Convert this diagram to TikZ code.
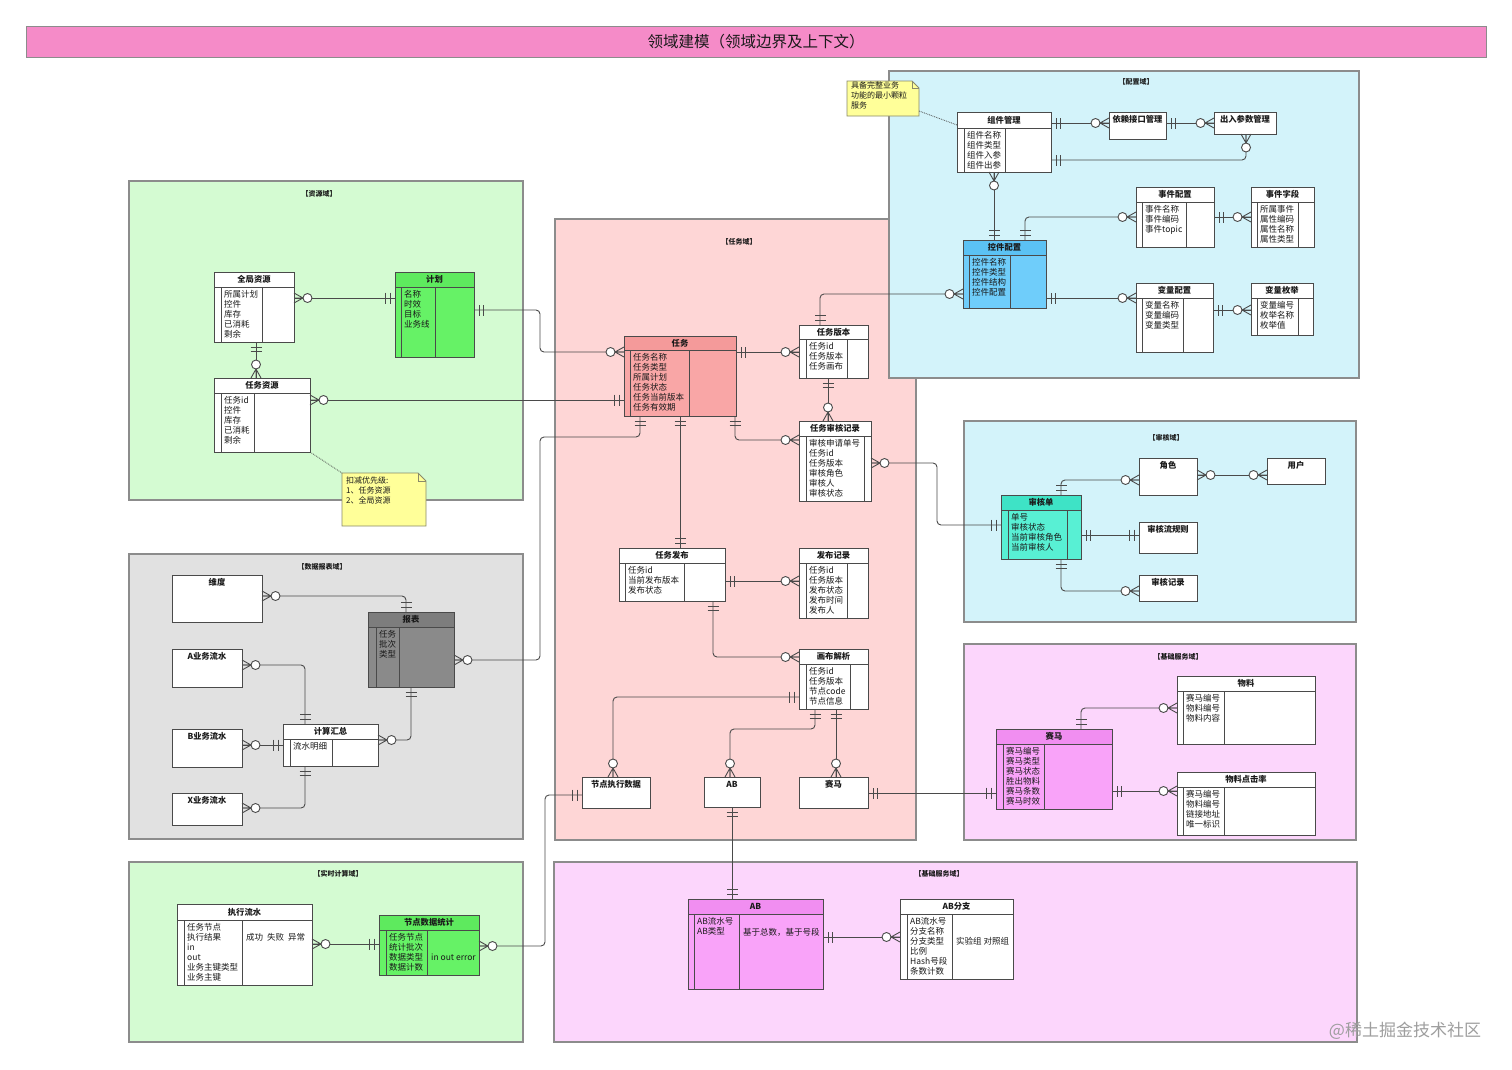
\documentclass[tikz,border=0pt]{standalone}
\usepackage{fontspec}
\setmainfont{Noto Sans CJK SC}
\usetikzlibrary{calc}
\definecolor{titlec}{HTML}{F58BC8}
\definecolor{gdom}{HTML}{D4FBD2}
\definecolor{pdom}{HTML}{FED6D6}
\definecolor{bdom}{HTML}{D3F3FA}
\definecolor{gydom}{HTML}{E1E1E1}
\definecolor{mdom}{HTML}{FCD6FC}
\definecolor{domc}{HTML}{8C8C8C}
\definecolor{lnc}{HTML}{4A4A4A}
\definecolor{grn}{HTML}{66F266}
\definecolor{grnh}{HTML}{5EEA5E}
\definecolor{rwb}{HTML}{F9A6A6}
\definecolor{rwh}{HTML}{F49A9A}
\definecolor{blu}{HTML}{6FCDFA}
\definecolor{bluh}{HTML}{5BC2F4}
\definecolor{tea}{HTML}{58F0D4}
\definecolor{teah}{HTML}{3EE3C6}
\definecolor{gry}{HTML}{8A8A8A}
\definecolor{gryh}{HTML}{7D7D7D}
\definecolor{mag}{HTML}{F9A3F9}
\definecolor{magh}{HTML}{F18EF1}
\definecolor{notec}{HTML}{FFFF99}
\definecolor{notebd}{HTML}{8A8A6A}
\definecolor{txt}{HTML}{1A1A1A}
\tikzset{
  dom/.style={draw=domc, line width=1.2pt, inner sep=0, outer sep=0, anchor=north west},
  domlab/.style={font=\bfseries\fontsize{7}{8}\selectfont, inner sep=0, text=txt},
  ebox/.style={draw=lnc, line width=0.9pt, inner sep=0, outer sep=0, anchor=north west},
  etitle/.style={font=\bfseries\fontsize{8.3}{10}\selectfont, inner sep=0, text=txt},
  eattr/.style={font=\fontsize{8.5}{10}\selectfont, inner sep=0, align=left, anchor=north west, text=txt},
  notetxt/.style={font=\fontsize{8}{10}\selectfont, inner sep=0, align=left, anchor=north west, text=txt},
  cn/.style={draw=lnc, line width=0.9pt, rounded corners=4pt},
  pics/erone/.style={code={\draw[lnc, line width=0.9pt] (5pt,-5.5pt) -- (5pt,5.5pt) (9.5pt,-5.5pt) -- (9.5pt,5.5pt);}},
  pics/ermany/.style={code={\draw[lnc, line width=0.9pt] (0pt,5pt) -- (9pt,0pt) -- (0pt,-5pt) (0pt,0pt) -- (9pt,0pt);
      \draw[lnc, line width=0.9pt, fill=white] (13.5pt,0pt) circle[radius=4.5pt];}}
}
\newcommand\mko[2]{\pic[rotate=#2] at #1 {erone};}
\newcommand\mkm[2]{\pic[rotate=#2] at #1 {ermany};}
\newcommand\ebx[6]{\node[ebox, fill=#6, minimum width={#4-#2}, minimum height={#5-#3}] (#1) at (#2,#3) {};}
\newcommand\ehd[7]{%
  \draw[lnc, line width=0.9pt, fill=#7] (#1.north west) rectangle ($(#1.north east)+(0,#2)$);
  \draw[lnc, line width=0.9pt] ($(#1.north west)+(#3,#2)$) -- ($(#1.south west)+(#3,0)$)
     ($(#1.north west)+(#4,#2)$) -- ($(#1.south west)+(#4,0)$);
  \node[etitle] (#1-t) at ($(#1.north)+(0,#2/2)$) {#5};
  \node[eattr] (#1-a) at ($(#1.north west)+(#3+3,#2+3.5)$) {#6};}
\newcommand\tbx[6]{\ebx{#1}{#2}{#3}{#4}{#5}{white}\node[etitle] (#1-t) at ($(#1.north)+(0,7.5)$) {#6};}
\begin{document}
\begin{tikzpicture}[x=1pt,y=-1pt]
\fill[white] (0,0) rectangle (1512,1069);
\useasboundingbox (0,0) rectangle (1512,1069);
% title
\node[draw=domc, fill=titlec, line width=1pt, minimum width=1460, minimum height=31, anchor=north west, inner sep=0, outer sep=0] (ttl) at (26,26) {};
\node[font=\fontsize{15.5}{16}\selectfont, inner sep=0, text=txt] (ttl-t) at (ttl.center) {领域建模（领域边界及上下文）};
% domains
\node[dom, fill=gdom, minimum width=394, minimum height=319] (d1) at (129,181) {};
\node[domlab] (d1-l) at (319,194) {【资源域】};
\node[dom, fill=pdom, minimum width=361, minimum height=621] (d2) at (555,219) {};
\node[domlab] (d2-l) at (739,242) {【任务域】};
\node[dom, fill=bdom, minimum width=470, minimum height=307] (d3) at (889,71) {};
\node[domlab] (d3-l) at (1136,82) {【配置域】};
\node[dom, fill=bdom, minimum width=392, minimum height=201] (d4) at (964,421) {};
\node[domlab] (d4-l) at (1166,438) {【审核域】};
\node[dom, fill=gydom, minimum width=394, minimum height=285] (d5) at (129,554) {};
\node[domlab] (d5-l) at (322,567) {【数据报表域】};
\node[dom, fill=mdom, minimum width=392, minimum height=196] (d6) at (964,644) {};
\node[domlab] (d6-l) at (1178,657) {【基础服务域】};
\node[dom, fill=gdom, minimum width=394, minimum height=180] (d7) at (129,862) {};
\node[domlab] (d7-l) at (338,874) {【实时计算域】};
\node[dom, fill=mdom, minimum width=803, minimum height=180] (d8) at (554,862) {};
\node[domlab] (d8-l) at (939,874) {【基础服务域】};
% resource domain
\ebx{qjzy}{214}{272}{294}{342}{white}
\ehd{qjzy}{15}{7}{48}{全局资源}{所属计划\\控件\\库存\\已消耗\\剩余}{white}
\ebx{jh}{395}{272}{474}{357}{grn}
\ehd{jh}{15}{6}{40}{计划}{名称\\时效\\目标\\业务线}{grnh}
\ebx{rwzy}{214}{378}{310}{452}{white}
\ehd{rwzy}{15}{7}{40}{任务资源}{任务id\\控件\\库存\\已消耗\\剩余}{white}
% task domain
\ebx{rw}{624}{336}{736}{416}{rwb}
\ehd{rw}{14}{6}{65}{任务}{任务名称\\任务类型\\所属计划\\任务状态\\任务当前版本\\任务有效期}{rwh}
\ebx{rwbb}{799}{325}{868}{378}{white}
\ehd{rwbb}{14}{7}{48}{任务版本}{任务id\\任务版本\\任务画布}{white}
\ebx{rwsh}{799}{421}{871}{501}{white}
\ehd{rwsh}{15}{7}{65}{任务审核记录}{审核申请单号\\任务id\\任务版本\\审核角色\\审核人\\审核状态}{white}
\ebx{rwfb}{619}{548}{725}{601}{white}
\ehd{rwfb}{15}{6}{65}{任务发布}{任务id\\当前发布版本\\发布状态}{white}
\ebx{fbjl}{799}{548}{868}{618}{white}
\ehd{fbjl}{15}{7}{48}{发布记录}{任务id\\任务版本\\发布状态\\发布时间\\发布人}{white}
\ebx{hbjx}{799}{649}{868}{709}{white}
\ehd{hbjx}{15}{7}{51}{画布解析}{任务id\\任务版本\\节点code\\节点信息}{white}
\tbx{jdzx}{582}{777}{650}{808}{节点执行数据}
\tbx{abs}{704}{777}{760}{807}{AB}
\tbx{smS}{799}{777}{868}{808}{赛马}
% config domain
\ebx{zjgl}{957}{112}{1051}{172}{white}
\ehd{zjgl}{16}{7}{48}{组件管理}{组件名称\\组件类型\\组件入参\\组件出参}{white}
\tbx{yljk}{1109}{112}{1166}{139}{依赖接口管理}
\tbx{crcs}{1214}{112}{1276}{134}{出入参数管理}
\ebx{kjpz}{963}{240}{1046}{308}{blu}
\ehd{kjpz}{15}{6}{47}{控件配置}{控件名称\\控件类型\\控件结构\\控件配置}{bluh}
\ebx{sjpz}{1136}{187}{1214}{247}{white}
\ehd{sjpz}{15}{6}{50}{事件配置}{事件名称\\事件编码\\事件topic}{white}
\ebx{sjzd}{1251}{187}{1314}{247}{white}
\ehd{sjzd}{15}{6}{47}{事件字段}{所属事件\\属性编码\\属性名称\\属性类型}{white}
\ebx{blpz}{1136}{283}{1213}{352}{white}
\ehd{blpz}{15}{6}{47}{变量配置}{变量名称\\变量编码\\变量类型}{white}
\ebx{blmj}{1251}{283}{1313}{335}{white}
\ehd{blmj}{15}{6}{47}{变量枚举}{变量编号\\枚举名称\\枚举值}{white}
% audit domain
\ebx{shd}{1001}{495}{1081}{559}{tea}
\ehd{shd}{15}{7}{66}{审核单}{单号\\审核状态\\当前审核角色\\当前审核人}{teah}
\tbx{js}{1139}{458}{1197}{495}{角色}
\tbx{yh}{1267}{458}{1325}{484}{用户}
\tbx{shlgz}{1139}{522}{1197}{553}{审核流规则}
\tbx{shjl}{1139}{575}{1197}{601}{审核记录}
% data report domain
\tbx{wd}{172}{575}{262}{622}{维度}
\ebx{bb}{368}{612}{454}{687}{gry}
\ehd{bb}{15}{8}{31}{报表}{任务\\批次\\类型}{gryh}
\tbx{ayw}{172}{649}{242}{687}{A业务流水}
\tbx{byw}{172}{729}{242}{767}{B业务流水}
\tbx{xyw}{172}{793}{242}{825}{X业务流水}
\ebx{jshz}{283}{724}{378}{766}{white}
\ehd{jshz}{15}{7}{49}{计算汇总}{流水明细}{white}
% basic service (right)
\ebx{sm}{996}{729}{1112}{809}{mag}
\ehd{sm}{15}{7}{48}{赛马}{赛马编号\\赛马类型\\赛马状态\\胜出物料\\赛马条数\\赛马时效}{magh}
\ebx{wl}{1177}{676}{1315}{744}{white}
\ehd{wl}{15}{6}{47}{物料}{赛马编号\\物料编号\\物料内容}{white}
\ebx{wldj}{1177}{772}{1315}{835}{white}
\ehd{wldj}{15}{6}{47}{物料点击率}{赛马编号\\物料编号\\链接地址\\唯一标识}{white}
% realtime domain
\ebx{zxls}{177}{904}{312}{985}{white}
\ehd{zxls}{16}{7}{65}{执行流水}{任务节点\\执行结果\\in\\out\\业务主键类型\\业务主键}{white}
\node[eattr, anchor=west] (zxls-c) at (246,937) {成功\hspace{4pt}失败\hspace{4pt}异常};
\ebx{jdtj}{379}{915}{479}{975}{grn}
\ehd{jdtj}{15}{7}{48}{节点数据统计}{任务节点\\统计批次\\数据类型\\数据计数}{grnh}
\node[eattr, anchor=west] (jdtj-c) at (431,957) {in out error};
% basic service (bottom)
\ebx{ab}{688}{899}{823}{989}{mag}
\ehd{ab}{15}{6}{51}{AB}{AB流水号\\AB类型}{magh}
\node[eattr, anchor=west] (ab-c) at (743,932) {基于总数，基于号段};
\ebx{abfz}{900}{899}{1013}{979}{white}
\ehd{abfz}{15}{7}{52}{AB分支}{AB流水号\\分支名称\\分支类型\\比例\\Hash号段\\条数计数}{white}
\node[eattr, anchor=west] (abfz-c) at (956,941) {实验组 对照组};
% notes
\node[inner sep=0, outer sep=0, minimum width=84, minimum height=53, anchor=north west] (n1) at (342,473) {};
\draw[fill=notec, draw=notebd, line width=0.8pt] (n1.north west) -- ($(n1.north east)+(-8,0)$) -- ($(n1.north east)+(0,8)$) -- (n1.south east) -- (n1.south west) -- cycle;
\draw[notebd, line width=0.8pt] ($(n1.north east)+(-8,0)$) -- ($(n1.north east)+(-8,8)$) -- ($(n1.north east)+(0,8)$);
\node[notetxt] (n1-t) at ($(n1.north west)+(4,4)$) {扣减优先级:\\1、任务资源\\2、全局资源};
\node[inner sep=0, outer sep=0, minimum width=72, minimum height=35, anchor=north west] (n2) at (847,81) {};
\draw[fill=notec, draw=notebd, line width=0.8pt] (n2.north west) -- ($(n2.north east)+(-7,0)$) -- ($(n2.north east)+(0,7)$) -- (n2.south east) -- (n2.south west) -- cycle;
\draw[notebd, line width=0.8pt] ($(n2.north east)+(-7,0)$) -- ($(n2.north east)+(-7,7)$) -- ($(n2.north east)+(0,7)$);
\node[notetxt] (n2-t) at ($(n2.north west)+(4,1)$) {具备完整业务\\功能的最小颗粒\\服务};
\draw[lnc, densely dotted, line width=0.8pt] (rwzy.south east) -- (n1.north west);
\draw[lnc, densely dotted, line width=0.8pt] ($(n2.south east)+(0,-5)$) -- (zjgl.west |- 0,125);
% connectors
\draw[cn] (qjzy.east |- 0,298) -- (jh.west |- 0,298);
\mkm{(qjzy.east |- 0,298)}{0} \mko{(jh.west |- 0,298)}{180}
\draw[cn] (qjzy.south -| 256,0) -- (rwzy.north -| 256,0);
\mko{(qjzy.south -| 256,0)}{270} \mkm{(rwzy.north -| 256,0)}{90}
\draw[cn] (rwzy.east |- 0,400) -- (rw.west |- 0,400);
\mkm{(rwzy.east |- 0,400)}{0} \mko{(rw.west |- 0,400)}{180}
\draw[cn] (jh.east |- 0,310) -- (540,310) -- (540,352) -- (rw.west |- 0,352);
\mko{(jh.east |- 0,310)}{0} \mkm{(rw.west |- 0,352)}{180}
\draw[cn] (rw.east |- 0,352) -- (rwbb.west |- 0,352);
\mko{(rw.east |- 0,352)}{0} \mkm{(rwbb.west |- 0,352)}{180}
\draw[cn] (rwbb.south -| 828,0) -- (rwsh.north -| 828,0);
\mko{(rwbb.south -| 828,0)}{270} \mkm{(rwsh.north -| 828,0)}{90}
\draw[cn] (rw.south -| 735,0) -- (735,440) -- (rwsh.west |- 0,440);
\mko{(rw.south -| 735,0)}{270} \mkm{(rwsh.west |- 0,440)}{180}
\draw[cn] (rwbb.north -| 820,0) -- (820,294) -- (kjpz.west |- 0,294);
\mko{(rwbb.north -| 820,0)}{90} \mkm{(kjpz.west |- 0,294)}{180}
\draw[cn] (rwsh.east |- 0,463) -- (937,463) -- (937,525) -- (shd.west |- 0,525);
\mkm{(rwsh.east |- 0,463)}{0} \mko{(shd.west |- 0,525)}{180}
\draw[cn] (rw.south -| 640,0) -- (640,437) -- (540,437) -- (540,660) -- (bb.east |- 0,660);
\mko{(rw.south -| 640,0)}{270} \mkm{(bb.east |- 0,660)}{0}
\draw[cn] (rw.south -| 680,0) -- (rwfb.north -| 680,0);
\mko{(rw.south -| 680,0)}{270} \mko{(rwfb.north -| 680,0)}{90}
\draw[cn] (rwfb.east |- 0,581) -- (fbjl.west |- 0,581);
\mko{(rwfb.east |- 0,581)}{0} \mkm{(fbjl.west |- 0,581)}{180}
\draw[cn] (rwfb.south -| 713,0) -- (713,657) -- (hbjx.west |- 0,657);
\mko{(rwfb.south -| 713,0)}{270} \mkm{(hbjx.west |- 0,657)}{180}
\draw[cn] (hbjx.west |- 0,697) -- (613,697) -- (jdzx.north -| 613,0);
\mko{(hbjx.west |- 0,697)}{180} \mkm{(jdzx.north -| 613,0)}{90}
\draw[cn] (hbjx.south -| 815,0) -- (815,729) -- (730,729) -- (abs.north -| 730,0);
\mko{(hbjx.south -| 815,0)}{270} \mkm{(abs.north -| 730,0)}{90}
\draw[cn] (hbjx.south -| 836,0) -- (smS.north -| 836,0);
\mko{(hbjx.south -| 836,0)}{270} \mkm{(smS.north -| 836,0)}{90}
\draw[cn] (smS.east |- 0,793) -- (sm.west |- 0,793);
\mko{(smS.east |- 0,793)}{0} \mko{(sm.west |- 0,793)}{180}
\draw[cn] (abs.south -| 732,0) -- (ab.north -| 732,0);
\mko{(abs.south -| 732,0)}{270} \mko{(ab.north -| 732,0)}{90}
\draw[cn] (jdzx.west |- 0,795) -- (545,795) -- (545,946) -- (jdtj.east |- 0,946);
\mko{(jdzx.west |- 0,795)}{180} \mkm{(jdtj.east |- 0,946)}{0}
\draw[cn] (zxls.east |- 0,944) -- (jdtj.west |- 0,944);
\mkm{(zxls.east |- 0,944)}{0} \mko{(jdtj.west |- 0,944)}{180}
\draw[cn] (sm.north -| 1081,0) -- (1081,708) -- (wl.west |- 0,708);
\mko{(sm.north -| 1081,0)}{90} \mkm{(wl.west |- 0,708)}{180}
\draw[cn] (sm.east |- 0,791) -- (wldj.west |- 0,791);
\mko{(sm.east |- 0,791)}{0} \mkm{(wldj.west |- 0,791)}{180}
\draw[cn] (ab.east |- 0,937) -- (abfz.west |- 0,937);
\mko{(ab.east |- 0,937)}{0} \mkm{(abfz.west |- 0,937)}{180}
\draw[cn] (wd.east |- 0,596) -- (406,596) -- (bb.north -| 406,0);
\mkm{(wd.east |- 0,596)}{0} \mko{(bb.north -| 406,0)}{90}
\draw[cn] (ayw.east |- 0,665) -- (305,665) -- (jshz.north -| 305,0);
\mkm{(ayw.east |- 0,665)}{0} \mko{(jshz.north -| 305,0)}{90}
\draw[cn] (byw.east |- 0,745) -- (jshz.west |- 0,745);
\mkm{(byw.east |- 0,745)}{0} \mko{(jshz.west |- 0,745)}{180}
\draw[cn] (xyw.east |- 0,808) -- (305,808) -- (jshz.south -| 305,0);
\mkm{(xyw.east |- 0,808)}{0} \mko{(jshz.south -| 305,0)}{270}
\draw[cn] (jshz.east |- 0,740) -- (411,740) -- (bb.south -| 411,0);
\mkm{(jshz.east |- 0,740)}{0} \mko{(bb.south -| 411,0)}{270}
\draw[cn] (zjgl.east |- 0,123) -- (yljk.west |- 0,123);
\mko{(zjgl.east |- 0,123)}{0} \mkm{(yljk.west |- 0,123)}{180}
\draw[cn] (yljk.east |- 0,123) -- (crcs.west |- 0,123);
\mko{(yljk.east |- 0,123)}{0} \mkm{(crcs.west |- 0,123)}{180}
\draw[cn] (zjgl.east |- 0,160) -- (1246,160) -- (crcs.south -| 1246,0);
\mko{(zjgl.east |- 0,160)}{0} \mkm{(crcs.south -| 1246,0)}{270}
\draw[cn] (zjgl.south -| 994,0) -- (kjpz.north -| 994,0);
\mkm{(zjgl.south -| 994,0)}{270} \mko{(kjpz.north -| 994,0)}{90}
\draw[cn] (kjpz.north -| 1025,0) -- (1025,217) -- (sjpz.west |- 0,217);
\mko{(kjpz.north -| 1025,0)}{90} \mkm{(sjpz.west |- 0,217)}{180}
\draw[cn] (sjpz.east |- 0,217) -- (sjzd.west |- 0,217);
\mko{(sjpz.east |- 0,217)}{0} \mkm{(sjzd.west |- 0,217)}{180}
\draw[cn] (kjpz.east |- 0,298) -- (blpz.west |- 0,298);
\mko{(kjpz.east |- 0,298)}{0} \mkm{(blpz.west |- 0,298)}{180}
\draw[cn] (blpz.east |- 0,310) -- (blmj.west |- 0,310);
\mko{(blpz.east |- 0,310)}{0} \mkm{(blmj.west |- 0,310)}{180}
\draw[cn] (shd.north -| 1061,0) -- (1061,480) -- (js.west |- 0,480);
\mko{(shd.north -| 1061,0)}{90} \mkm{(js.west |- 0,480)}{180}
\draw[cn] (js.east |- 0,475) -- (yh.west |- 0,475);
\mkm{(js.east |- 0,475)}{0} \mkm{(yh.west |- 0,475)}{180}
\draw[cn] (shd.east |- 0,535) -- (shlgz.west |- 0,535);
\mko{(shd.east |- 0,535)}{0} \mko{(shlgz.west |- 0,535)}{180}
\draw[cn] (shd.south -| 1061,0) -- (1061,591) -- (shjl.west |- 0,591);
\mko{(shd.south -| 1061,0)}{270} \mkm{(shjl.west |- 0,591)}{180}
% watermark
\node[font=\fontsize{17}{17}\selectfont, text=black!38, inner sep=0] (wm) at (1405,1031) {@稀土掘金技术社区};
\end{tikzpicture}
\end{document}
